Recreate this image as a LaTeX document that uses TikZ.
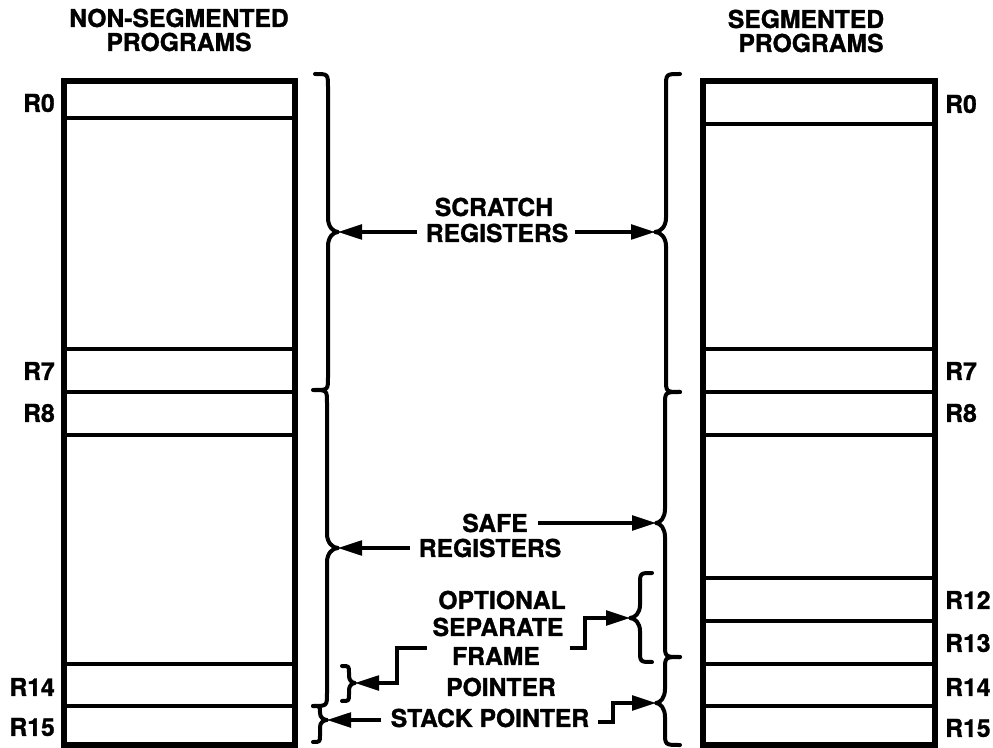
\documentclass[tikz,border=0pt]{standalone}
\usepackage{fontspec}
\setmainfont{TeX Gyre Heros}[BoldFeatures={FakeBold=1.2}]
\usetikzlibrary{arrows.meta}
% brace: #1 x of ends, #2 x of spine, #3 x of tip, #4 y top, #5 y tip, #6 y bottom, #7 end curl, #8 tip curl
\newcommand\vbrc[8]{%
  \draw[bracestyle] (#1,#4) .. controls (#2,#4) .. (#2,{#4+#7}) -- (#2,{#5-#8})
    .. controls (#2,{#5-0.4*#8}) and ({#2+0.5*(#3-#2)},#5) .. (#3,#5)
    .. controls ({#2+0.5*(#3-#2)},#5) and (#2,{#5+0.4*#8}) .. (#2,{#5+#8})
    -- (#2,{#6-#7}) .. controls (#2,#6) .. (#1,#6);}
\begin{document}
\begin{tikzpicture}[x=0.75pt,y=-0.75pt,
  lbl/.style={font=\fontsize{18.5}{20}\selectfont\bfseries, inner sep=0pt},
  boxline/.style={line width=4.5pt},
  rowline/.style={line width=3pt},
  bracestyle/.style={line width=3pt, line cap=round, line join=round},
  arr/.style={line width=2.5pt, -{Triangle[length=18pt,width=11pt]}},
]
\useasboundingbox (0,0) rectangle (993,748);
\fill[white] (0,0) rectangle (993,748);

% left box
\draw[boxline] (64,81.5) rectangle (295,745);
\foreach \yy in {118,349,392,435,664,706} \draw[rowline] (64,\yy) -- (295,\yy);
% right box
\draw[boxline] (702.5,81.5) rectangle (934.5,745);
\foreach \yy in {124,349,392,435,578,621,664,706} \draw[rowline] (702.5,\yy) -- (934.5,\yy);

% headers
\node[lbl] (hl1) at (179,18) {NON-SEGMENTED};
\node[lbl] (hl2) at (179,42) {PROGRAMS};
\node[lbl] (hr1) at (806,19) {SEGMENTED};
\node[lbl] (hr2) at (811,43) {PROGRAMS};

% register labels left
\node[lbl,anchor=east] (lR0) at (55,103) {R0};
\node[lbl,anchor=east] (lR7) at (55,371) {R7};
\node[lbl,anchor=east] (lR8) at (55,413) {R8};
\node[lbl,anchor=east] (lR14) at (55,687) {R14};
\node[lbl,anchor=east] (lR15) at (55,727) {R15};
% register labels right
\node[lbl,anchor=west] (rR0) at (945,104) {R0};
\node[lbl,anchor=west] (rR7) at (945,371) {R7};
\node[lbl,anchor=west] (rR8) at (945,413) {R8};
\node[lbl,anchor=west] (rR12) at (945,600) {R12};
\node[lbl,anchor=west] (rR13) at (945,643) {R13};
\node[lbl,anchor=west] (rR14) at (945,687) {R14};
\node[lbl,anchor=west] (rR15) at (945,728) {R15};

% middle texts
\node[lbl] (sc1) at (494,207) {SCRATCH};
\node[lbl] (sc2) at (497,233) {REGISTERS};
\node[lbl] (sf1) at (495,523) {SAFE};
\node[lbl] (sf2) at (490,548) {REGISTERS};
\node[lbl] (op1) at (502,600) {OPTIONAL};
\node[lbl] (op2) at (498,627) {SEPARATE};
\node[lbl] (op3) at (496,656) {FRAME};
\node[lbl] (op4) at (501,687) {POINTER};
\node[lbl] (sp) at (490,718) {STACK POINTER};

% braces left
\vbrc{315}{328}{338}{74}{232}{390}{13}{14}
\vbrc{313}{327}{338}{390}{548}{706}{13}{14}
\vbrc{313}{320}{327}{706}{720}{742}{7}{7}
\vbrc{342}{349}{355}{666}{683}{701}{7}{7}
% braces right
\vbrc{680}{666}{655}{74}{232}{392}{13}{14}
\vbrc{680}{665}{656}{392}{523}{657}{13}{14}
\vbrc{680}{665}{656}{657}{703}{745}{13}{14}
\vbrc{652}{640}{630}{573}{618}{662}{12}{13}

% brace tips
\coordinate (tLsc) at (338,232);
\coordinate (tRsc) at (655,232);
\coordinate (tLsf) at (338,548);
\coordinate (tRsf) at (656,523);
\coordinate (tLfp) at (355,683);
\coordinate (tRfp) at (630,618);
\coordinate (tLsp) at (327,720);
\coordinate (tRsp) at (656,703);
% arrow starts
\coordinate (aLsc) at (417,232);
\coordinate (aRsc) at (575,232);
\coordinate (aLsf) at (410,548);
\coordinate (aRsf) at (538,523);
\coordinate (aLfp) at (427,648);
\coordinate (aRfp) at (570,648);
\coordinate (aLsp) at (381,720);
\coordinate (aRsp) at (598,722);

\draw[arr] (aLsc) -- (tLsc);
\draw[arr] (aRsc) -- (tRsc);
\draw[arr] (aLsf) -- (tLsf);
\draw[arr] (aRsf) -- (tRsf);
\draw[arr] (aLfp) -- (397,648) -- (397,683) -- (tLfp);
\draw[arr] (aRfp) -- (585,648) -- (585,618) -- (tRfp);
\draw[arr] (aLsp) -- (tLsp);
\draw[arr] (aRsp) -- (613,722) -- (613,703) -- (tRsp);
\end{tikzpicture}
\end{document}
